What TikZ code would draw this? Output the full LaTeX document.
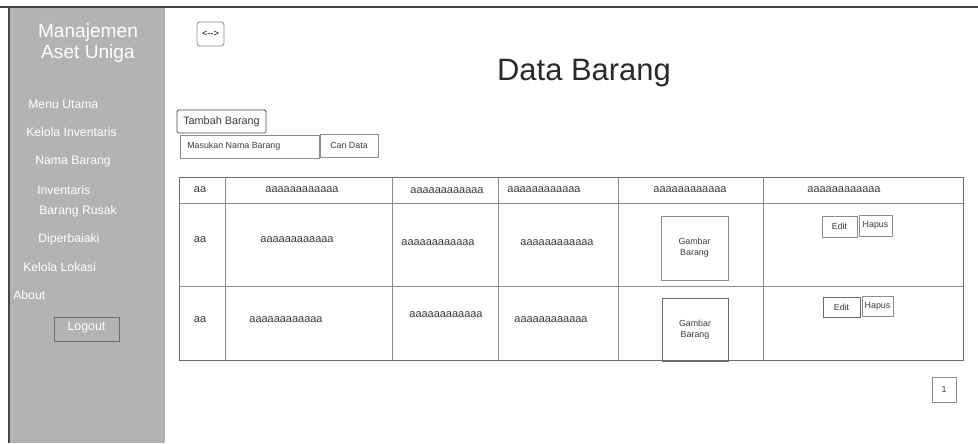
\documentclass[tikz,border=0pt]{standalone}
\usepackage{fontspec}
\setmainfont{Liberation Sans}
\definecolor{SideGray}{RGB}{179,179,179}
\definecolor{FrameGray}{RGB}{70,70,70}
\definecolor{LineGray}{RGB}{140,140,140}
\definecolor{TextGray}{RGB}{60,60,60}
\tikzset{
  menu/.style={text=white,anchor=west,inner sep=0pt,font=\fontsize{8.7}{10}\selectfont},
  cell/.style={text=TextGray,inner sep=0pt,font=\fontsize{7.8}{9}\selectfont},
  small/.style={text=TextGray,inner sep=0pt,align=center,font=\fontsize{6.3}{7.6}\selectfont},
  boxline/.style={draw=LineGray,line width=.6pt},
}
\begin{document}
\begin{tikzpicture}[x=0.025cm,y=-0.025cm]
  \useasboundingbox (0,0) rectangle (978,443);
  % sidebar
  \fill[SideGray] (9,7) rectangle (165,443);
  \draw[FrameGray,line width=.8pt] (0,7) -- (978,7);
  \draw[FrameGray,line width=.8pt] (9,7) -- (9,443);
  \node[text=white,align=center,inner sep=0pt,font=\fontsize{13.6}{14.5}\selectfont] (app) at (88,43) {Manajemen\\Aset Uniga};
  \node[menu] (menu) at (28,104) {Menu Utama};
  \node[menu] (kelinv) at (26,132) {Kelola Inventaris};
  \node[menu] (nama) at (35,162) {Nama Barang};
  \node[menu] (inv) at (37,190) {Inventaris};
  \node[menu] (rusak) at (39,211) {Barang Rusak};
  \node[menu] (perbaiki) at (38,239) {Diperbaiaki};
  \node[menu] (lokasi) at (23,267) {Kelola Lokasi};
  \node[menu] (about) at (13,295) {About};
  \draw[draw=FrameGray!80,fill=SideGray,line width=.7pt] (54,317) rectangle (119,341);
  \node[text=white,inner sep=0pt,font=\fontsize{8.8}{10}\selectfont] (logout) at (86.5,328) {Logout};
  % header
  \draw[boxline,rounded corners=2pt] (197,22) rectangle (224,46);
  \node[text=black,inner sep=0pt,font=\fontsize{6.5}{8}\selectfont] (back) at (210.5,34) {<{-}{-}>};
  \node[text=TextGray!70!black,inner sep=0pt,font=\fontsize{22}{24}\selectfont] (title) at (584,73) {Data Barang};
  % search
  \draw[draw=FrameGray,line width=.6pt,rounded corners=1pt] (177,110) rectangle (266,133);
  \node[text=TextGray,inner sep=0pt,font=\fontsize{7.7}{9}\selectfont] (tambah) at (221.5,121.5) {Tambah Barang};
  \draw[boxline] (180,135) rectangle (319,158);
  \node[small,anchor=west] (cari) at (187,146.5) {Masukan Nama Barang};
  \draw[boxline] (320,134) rectangle (378,157);
  \node[small] (caribtn) at (349,145.5) {Cari Data};
  % table
  \draw[draw=FrameGray!80,line width=.7pt] (179,177) rectangle (963,360);
  \foreach \y in {203,286} \draw[boxline] (179,\y) -- (963,\y);
  \foreach \x in {225,392,498,618,763} \draw[boxline] (\x,177) -- (\x,360);
  % header row
  \node[cell] (h0) at (200,190) {aa};
  \node[cell] (h1) at (302,190) {aaaaaaaaaaaa};
  \node[cell] (h2) at (447,191) {aaaaaaaaaaaa};
  \node[cell] (h3) at (544,190) {aaaaaaaaaaaa};
  \node[cell] (h4) at (690,190) {aaaaaaaaaaaa};
  \node[cell] (h5) at (844,190) {aaaaaaaaaaaa};
  % row 1
  \node[cell] (a0) at (200,240) {aa};
  \node[cell] (a1) at (297,240) {aaaaaaaaaaaa};
  \node[cell] (a2) at (438,243) {aaaaaaaaaaaa};
  \node[cell] (a3) at (557,243) {aaaaaaaaaaaa};
  \draw[boxline] (661,216) rectangle (728,280);
  \node[small] (img1) at (694.5,248) {Gambar\\Barang};
  \draw[boxline] (822,216) rectangle (857,237);
  \node[small] (edit1) at (839.5,226.5) {Edit};
  \draw[boxline] (859,215) rectangle (892,236);
  \node[small] (hapus1) at (875.5,225) {Hapus};
  % row 2
  \node[cell] (b0) at (200,320) {aa};
  \node[cell] (b1) at (286,320) {aaaaaaaaaaaa};
  \node[cell] (b2) at (446,315) {aaaaaaaaaaaa};
  \node[cell] (b3) at (551,320) {aaaaaaaaaaaa};
  \draw[draw=FrameGray!80,line width=.6pt] (662,298) rectangle (728,361);
  \node[small] (img2) at (695,330) {Gambar\\Barang};
  \draw[draw=FrameGray!80,line width=.6pt] (823,297) rectangle (860,317);
  \node[small] (edit2) at (841.5,307) {Edit};
  \draw[boxline] (862,296) rectangle (893,316);
  \node[small] (hapus2) at (877.5,306) {Hapus};
  % paging
  \draw[boxline] (932,377) rectangle (956,402);
  \node[small] (page) at (944,389.5) {1};
\end{tikzpicture}
\end{document}
